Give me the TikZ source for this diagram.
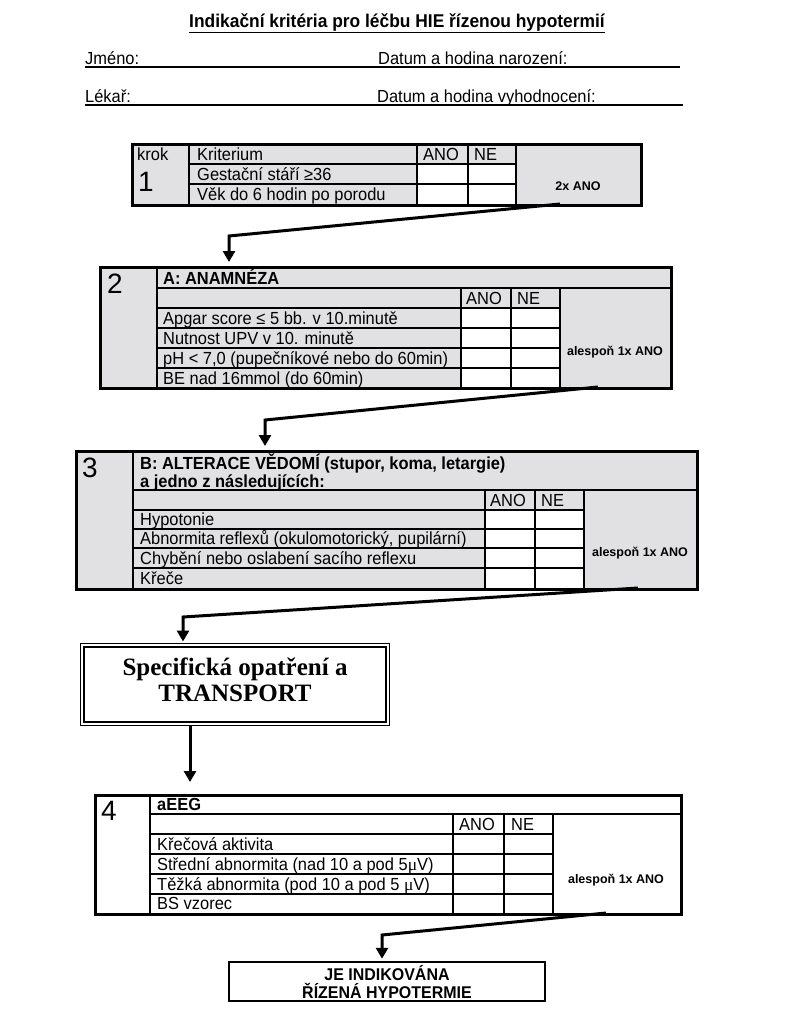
\documentclass[tikz,border=0pt]{standalone}
\usepackage{fontspec}
\setmainfont{Liberation Sans}
\newfontfamily\nsans[FakeStretch=0.94]{Liberation Sans}
\newfontfamily\serifb{Liberation Serif}
\usetikzlibrary{arrows.meta}
\definecolor{cellgray}{RGB}{225,225,228}
\begin{document}
\begin{tikzpicture}[x=1pt,y=-1pt,
  tbl/.style={draw, line width=2pt, inner sep=0, anchor=north west},
  frame/.style={line width=2pt},
  grid/.style={line width=1.4pt},
  txt/.style={inner sep=0, anchor=base west, font=\nsans\fontsize{17.5}{19}\selectfont},
  bh/.style={inner sep=0, anchor=base west, font=\nsans\bfseries\fontsize{17.5}{19}\selectfont},
  res/.style={inner sep=0, font=\bfseries\fontsize{12.5}{14}\selectfont},
  num/.style={inner sep=0, anchor=base west, font=\fontsize{28}{30}\selectfont},
  conn/.style={line width=3pt, line join=miter, -{Triangle[width=12pt,length=11pt]}},
  hline/.style={line width=1.6pt}]
\useasboundingbox (0,0) rectangle (787,1026);

% ---------- header ----------
\node[inner sep=0, anchor=base, font=\nsans\bfseries\fontsize{18.5}{20}\selectfont] (title) at (397,27) {\underline{Indikační kritéria pro léčbu HIE řízenou hypotermií}};
\node[txt] (jm) at (85,64) {Jméno:};
\node[txt] (dn) at (378,64) {Datum a hodina narození:};
\draw[hline] (85,67) -- (680,67);
\node[txt] (lk) at (85,102) {Lékař:};
\node[txt] (dv) at (377,102) {Datum a hodina vyhodnocení:};
\draw[hline] (85,105) -- (683,105);

% ---------- step 1 ----------
\node[tbl, fill=cellgray, minimum width=508pt, minimum height=60pt] (t1) at (132,144) {};
\fill[white] (417,164) rectangle (516,204);
\draw[grid] (189,144) -- (189,204) (417,144) -- (417,204) (468,144) -- (468,204) (516,144) -- (516,204)
  (189,164) -- (516,164) (189,184) -- (516,184);
\draw[frame] (t1.north west) rectangle (t1.south east);
\node[txt] (k1) at (137,160) {krok};
\node[txt] (k2) at (197,160) {Kriterium};
\node[txt] (k3) at (423,160) {ANO};
\node[txt] (k4) at (474,160) {NE};
\node[txt] (k5) at (197,180) {Gestační stáří ≥36};
\node[txt] (k6) at (197,200) {Věk do 6 hodin po porodu};
\node[num] (n1) at (138,191) {1};
\node[res] (r1) at (578,186) {2x ANO};

% ---------- step 2 ----------
\node[tbl, fill=cellgray, minimum width=570pt, minimum height=120pt] (t2) at (100,267) {};
\fill[white] (461,308) rectangle (560,387);
\draw[grid] (157,267) -- (157,387) (157,288) -- (670,288)
  (461,288) -- (461,387) (511,288) -- (511,387) (560,288) -- (560,387)
  (157,308) -- (560,308) (157,328) -- (560,328) (157,348) -- (560,348) (157,368) -- (560,368);
\draw[frame] (t2.north west) rectangle (t2.south east);
\node[num] (n2) at (107,293) {2};
\node[bh] (h2) at (163,284) {A: ANAMNÉZA};
\node[txt] (a1) at (466,304) {ANO};
\node[txt] (a2) at (517,304) {NE};
\node[txt] (a3) at (163,324) {Apgar score ≤ 5 bb. v 10.minutě};
\node[txt] (a4) at (163,344) {Nutnost UPV v 10. minutě};
\node[txt] (a5) at (163,364) {pH < 7,0 (pupečníkové nebo do 60min)};
\node[txt] (a6) at (163,384) {BE nad 16mmol (do 60min)};
\node[res] (r2) at (615,352) {alespoň 1x ANO};

% ---------- step 3 ----------
\node[tbl, fill=cellgray, minimum width=620pt, minimum height=137pt] (t3) at (76,451) {};
\fill[white] (485,510) rectangle (584,588);
\draw[grid] (133,451) -- (133,588) (133,490) -- (696,490)
  (485,490) -- (485,588) (535,490) -- (535,588) (584,490) -- (584,588)
  (133,510) -- (584,510) (133,529) -- (584,529) (133,548) -- (584,548) (133,568) -- (584,568);
\draw[frame] (t3.north west) rectangle (t3.south east);
\node[num] (n3) at (82,477) {3};
\node[bh] (h3a) at (140,469) {B: ALTERACE VĚDOMÍ (stupor, koma, letargie)};
\node[bh] (h3b) at (140,487) {a jedno z následujících:};
\node[txt] (b1) at (490,506) {ANO};
\node[txt] (b2) at (541,506) {NE};
\node[txt] (b3) at (140,525) {Hypotonie};
\node[txt] (b4) at (140,544) {Abnormita reflexů (okulomotorický, pupilární)};
\node[txt] (b5) at (140,564) {Chybění nebo oslabení sacího reflexu};
\node[txt] (b6) at (140,584) {Křeče};
\node[res] (r3) at (640,553) {alespoň 1x ANO};

% ---------- transport ----------
\node[draw, line width=1pt, minimum width=309pt, minimum height=82pt, inner sep=0] (trans) at (234.5,684) {};
\node[draw, line width=2pt, minimum width=302pt, minimum height=75pt, inner sep=0] (transin) at (234.5,684) {};
\node[inner sep=0, align=center, font=\serifb\bfseries\fontsize{25}{26}\selectfont] (transtxt) at (235,680) {Specifická opatření a\\TRANSPORT};

% ---------- step 4 ----------
\node[tbl, fill=white, minimum width=585pt, minimum height=118pt] (t4) at (95,795) {};
\draw[grid] (150,795) -- (150,913) (150,814) -- (680,814)
  (453,814) -- (453,913) (504,814) -- (504,913) (553,814) -- (553,913)
  (150,834) -- (553,834) (150,854) -- (553,854) (150,874) -- (553,874) (150,894) -- (553,894);
\draw[frame] (t4.north west) rectangle (t4.south east);
\node[num] (n4) at (101,820) {4};
\node[bh] (h4) at (157,810) {aEEG};
\node[txt] (c1) at (459,830) {ANO};
\node[txt] (c2) at (511,830) {NE};
\node[txt] (c3) at (157,850) {Křečová aktivita};
\node[txt] (c4) at (157,870) {Střední abnormita (nad 10 a pod 5{\serifb μ}V)};
\node[txt] (c5) at (157,890) {Těžká abnormita (pod 10 a pod 5 {\serifb μ}V)};
\node[txt] (c6) at (157,909) {BS vzorec};
\node[res] (r4) at (616,880) {alespoň 1x ANO};

% ---------- final ----------
\node[draw, line width=2.5pt, minimum width=316pt, minimum height=39pt, inner sep=0] (fin) at (387,981.5) {};
\node[inner sep=0, align=center, font=\nsans\bfseries\fontsize{17}{17.5}\selectfont] (fintxt) at (387,982) {JE INDIKOVÁNA\\ŘÍZENÁ HYPOTERMIE};

% ---------- connectors ----------
\coordinate (a1s) at (560,204);
\coordinate (a1k) at (229,236);
\draw[conn, shorten >=5pt] (a1s) -- (a1k) -- (a1k |- t2.north);
\coordinate (a2s) at (598,387);
\coordinate (a2k) at (265,420);
\draw[conn, shorten >=5pt] (a2s) -- (a2k) -- (a2k |- t3.north);
\coordinate (a3s) at (638,588);
\coordinate (a3k) at (183,617);
\draw[conn, shorten >=1pt] (a3s) -- (a3k) -- (a3k |- trans.north);
\coordinate (a4s) at (190,725);
\draw[conn, shorten >=13pt] (a4s) -- (a4s |- t4.north);
\coordinate (a5s) at (606,913);
\coordinate (a5k) at (382,935);
\draw[conn, shorten >=2pt] (a5s) -- (a5k) -- (a5k |- fin.north);
\end{tikzpicture}
\end{document}
